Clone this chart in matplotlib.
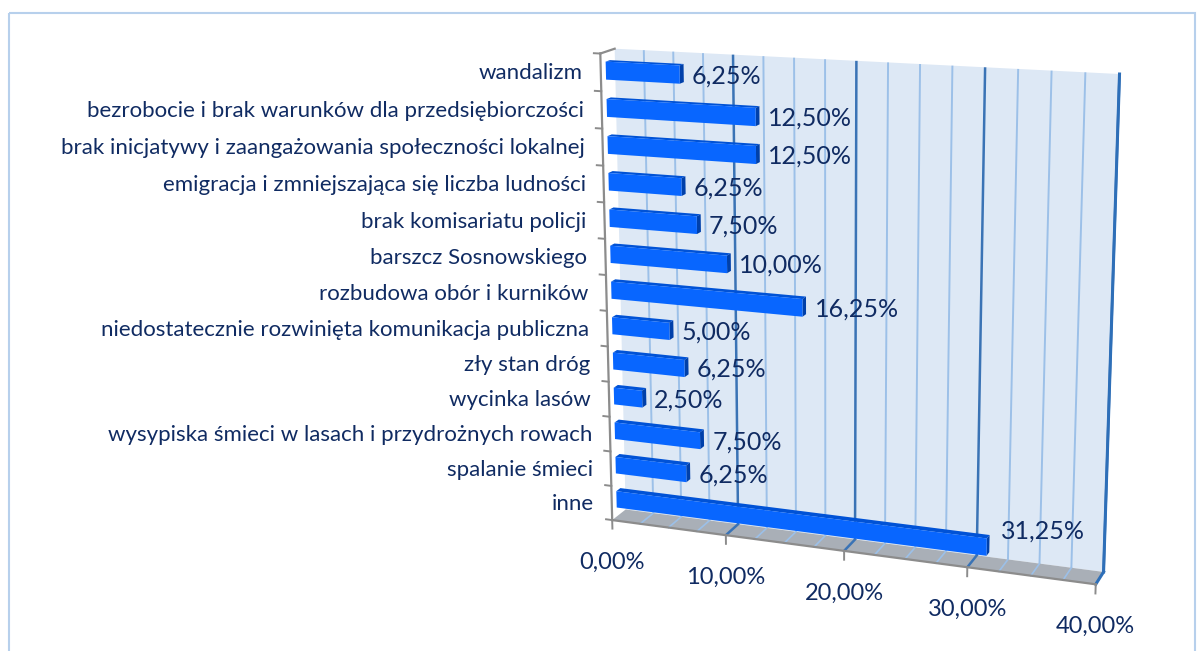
import numpy as np
import matplotlib
matplotlib.use("Agg")
import matplotlib.pyplot as plt
import matplotlib.transforms as mtransforms
from matplotlib.patches import Rectangle

plt.rcParams['font.family'] = ['Lato', 'DejaVu Sans']

categories = [
    "wandalizm",
    "bezrobocie i brak warunków dla przedsiębiorczości",
    "brak inicjatywy i zaangażowania społeczności lokalnej",
    "emigracja i zmniejszająca się liczba ludności",
    "brak komisariatu policji",
    "barszcz Sosnowskiego",
    "rozbudowa obór i kurników",
    "niedostatecznie rozwinięta komunikacja publiczna",
    "zły stan dróg",
    "wycinka lasów",
    "wysypiska śmieci w lasach i przydrożnych rowach",
    "spalanie śmieci",
    "inne",
]
values = [6.25, 12.50, 12.50, 6.25, 7.50, 10.00, 16.25, 5.00, 6.25, 2.50, 7.50, 6.25, 31.25]
x_ticks = [0, 10, 20, 30, 40]
x_max = 40
minor_step = 2.5

TEXT = '#102B62'
WALL = '#DDE8F5'
FLOOR = '#A9AFB7'
GRID_MINOR = '#9CC0E8'
GRID_MAJOR = '#3A73B5'
AXIS = '#8C8C8C'
BAR_FRONT = '#0866FF'
BAR_TOP = '#0052D6'
BAR_END = '#0040AA'

n = len(categories)

# box corners (value, category height, depth) -> pixel, used to fit a camera
world_pts = [(0, 0, 0), (40, 0, 0), (0, 13, 0), (40, 13, 0),
             (0, 0, 1), (40, 0, 1), (0, 13, 1), (10, 0, 1),
             (10, 13, 0), (20, 13, 0), (30, 13, 0)]
image_pts = [(624, 508), (1103, 574), (616, 48), (1119, 73),
             (613, 520), (1096, 582.5), (598, 54), (727, 536.5),
             (734, 55.5), (857, 61.5), (985, 67)]


def fit_camera(world, image):
    W = np.asarray(world, float) / np.array([x_max, n, 1.0])
    I = np.asarray(image, float)
    c = I.mean(axis=0)
    s = 500.0
    In = (I - c) / s
    rows = []
    for X, (x, y) in zip(W, In):
        Xh = np.append(X, 1.0)
        rows.append(np.concatenate([Xh, np.zeros(4), -x * Xh]))
        rows.append(np.concatenate([np.zeros(4), Xh, -y * Xh]))
    _, _, vt = np.linalg.svd(np.array(rows))
    P = vt[-1].reshape(3, 4)
    T = np.array([[s, 0, c[0]], [0, s, c[1]], [0, 0, 1]])
    S = np.diag([1.0 / x_max, 1.0 / n, 1.0, 1.0])
    return T @ P @ S


class PlaneTransform(mtransforms.Transform):
    input_dims = 2
    output_dims = 2

    def __init__(self, H):
        super().__init__()
        self.H = H

    def transform_non_affine(self, values):
        values = np.asarray(values, float).reshape(-1, 2)
        xy = np.column_stack([values, np.ones(len(values))]) @ self.H.T
        return xy[:, :2] / xy[:, 2:3]


CAM = fit_camera(world_pts, image_pts)

fig = plt.figure(figsize=(12.03, 6.51), dpi=100)
ax = fig.add_axes([0, 0, 1, 1])
ax.set_xlim(0, 1203)
ax.set_ylim(651, 0)
ax.axis('off')


def plane(fixed, value):
    free = [i for i in range(3) if i != fixed]
    H = np.column_stack([CAM[:, free[0]], CAM[:, free[1]],
                         value * CAM[:, fixed] + CAM[:, 3]])
    return PlaneTransform(H) + ax.transData


# chart area border
ax.add_patch(Rectangle((9, 13), 1186, 660, fill=False, ec='#B7D0EC', lw=1.5))

# back wall with gridlines
back = plane(2, 0)
ax.add_patch(Rectangle((0, 0), x_max, n, fc=WALL, ec='none', transform=back, zorder=1))
grid = np.arange(minor_step, x_max + 0.01, minor_step)
for g in grid:
    major = g % 10 == 0
    ax.plot([g, g], [0, n], color=GRID_MAJOR if major else GRID_MINOR,
            lw=1.8 if major else 1.4, transform=back, solid_capstyle='butt', zorder=2)

# floor with gridlines
floor = plane(1, 0)
ax.add_patch(Rectangle((0, 0), x_max, 1, fc=FLOOR, ec='none', transform=floor, zorder=3))
for g in grid[:-1]:
    major = g % 10 == 0
    ax.plot([g, g], [0, 1], color=GRID_MAJOR if major else GRID_MINOR,
            lw=1.8 if major else 1.2, transform=floor, zorder=4)

# right edge of wall and floor
ax.plot([x_max, x_max], [0, n], color='#2E6FB8', lw=2.2, transform=back, zorder=4)
ax.plot([x_max, x_max], [0, 1], color='#2E6FB8', lw=2.2, transform=floor, zorder=4)

# bars
w_back, w_front = 0.35, 0.65
bar_h = 0.48
front = plane(2, w_front)
for i, val in enumerate(values):
    vc = n - i - 0.5
    lo, hi = vc - bar_h / 2, vc + bar_h / 2
    ax.add_patch(Rectangle((0, w_back), val, w_front - w_back, fc=BAR_TOP,
                           ec='none', transform=plane(1, hi), zorder=5))
    ax.add_patch(Rectangle((lo, w_back), bar_h, w_front - w_back, fc=BAR_END,
                           ec='none', transform=plane(0, val), zorder=5))
    ax.add_patch(Rectangle((0, lo), val, bar_h, fc=BAR_FRONT, ec='none',
                           transform=front, zorder=6))

# axis lines at the front
near = plane(2, 1)
ax.plot([0, 0], [0, n], color=AXIS, lw=1.6, transform=near, zorder=7)
ax.plot([0, x_max], [0, 0], color=AXIS, lw=1.6, transform=near, zorder=7)
ax.plot([0, 0], [0, 1], color=AXIS, lw=1.6, transform=plane(1, n), zorder=7)
for k in range(n + 1):
    ax.plot([-0.55, 0], [k, k], color=AXIS, lw=1.4, transform=near, zorder=7)
for t in x_ticks:
    ax.plot([t, t], [0, -0.25], color=AXIS, lw=1.4, transform=near, zorder=7)

# category labels
cat_tr = mtransforms.offset_copy(near, fig=fig, x=-18, y=-1, units='dots')
for i, name in enumerate(categories):
    ax.text(0, n - i - 0.5, name, transform=cat_tr, ha='right', va='center',
            fontsize=16, color=TEXT, zorder=8)

# value axis labels
tick_tr = mtransforms.offset_copy(near, fig=fig, x=0, y=-42, units='dots')
for t in x_ticks:
    ax.text(t, 0, f"{t:.2f}%".replace('.', ','), transform=tick_tr,
            ha='center', va='center', fontsize=17, color=TEXT, zorder=8)

# value labels at the bar ends
label_nudge = {n - 1: (2, 17)}
for i, val in enumerate(values):
    dx, dy = label_nudge.get(i, (0, 0))
    tr = mtransforms.offset_copy(front, fig=fig, x=12 + dx, y=-1 + dy, units='dots')
    ax.text(val, n - i - 0.5, f"{val:.2f}%".replace('.', ','), transform=tr,
            ha='left', va='center', fontsize=18, color=TEXT, zorder=8)

fig.savefig('out.png', dpi=100)
